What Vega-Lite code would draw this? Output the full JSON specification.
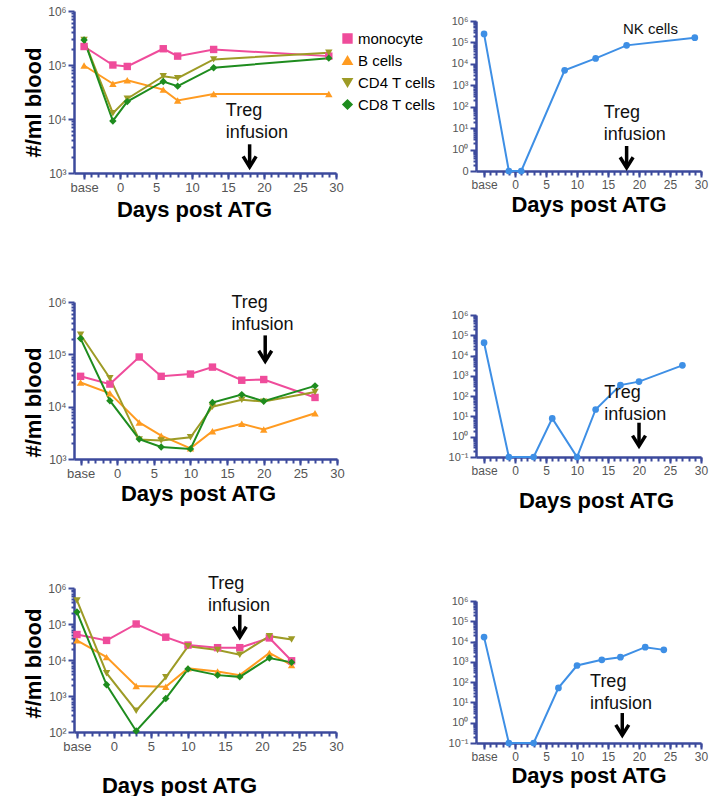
{
  "$schema": "https://vega.github.io/schema/vega-lite/v6.json",
  "background": "white",
  "padding": {"left": 22, "top": 5, "right": 5, "bottom": 0},
  "config": {
    "font": "Liberation Sans",
    "view": {"stroke": null},
    "axis": {
      "labelFont": "Liberation Sans",
      "titleFont": "Liberation Sans",
      "labelColor": "#555555",
      "domainColor": "#3C4A9C",
      "tickColor": "#3C4A9C",
      "domainWidth": 2.5,
      "domainCap": "butt",
      "tickWidth": 2,
      "labelFlush": false,
      "labelOverlap": false,
      "grid": false,
      "titleFontWeight": "bold",
      "titleColor": "black",
      "titleFontSize": 22,
      "labelPadding": 2
    }
  },
  "datasets": {
    "cells": [
      {"patient": 1, "cell": "monocyte", "day": -5, "count": 220000},
      {"patient": 1, "cell": "monocyte", "day": -1, "count": 100000},
      {"patient": 1, "cell": "monocyte", "day": 1, "count": 94000},
      {"patient": 1, "cell": "monocyte", "day": 6, "count": 200000},
      {"patient": 1, "cell": "monocyte", "day": 8, "count": 146000},
      {"patient": 1, "cell": "monocyte", "day": 13, "count": 194000},
      {"patient": 1, "cell": "monocyte", "day": 29, "count": 146000},
      {"patient": 1, "cell": "B cells", "day": -5, "count": 98000},
      {"patient": 1, "cell": "B cells", "day": -1, "count": 45000},
      {"patient": 1, "cell": "B cells", "day": 1, "count": 52000},
      {"patient": 1, "cell": "B cells", "day": 6, "count": 35000},
      {"patient": 1, "cell": "B cells", "day": 8, "count": 22000},
      {"patient": 1, "cell": "B cells", "day": 13, "count": 29000},
      {"patient": 1, "cell": "B cells", "day": 29, "count": 29000},
      {"patient": 1, "cell": "CD4 T cells", "day": -5, "count": 290000},
      {"patient": 1, "cell": "CD4 T cells", "day": -1, "count": 12800},
      {"patient": 1, "cell": "CD4 T cells", "day": 1, "count": 23700},
      {"patient": 1, "cell": "CD4 T cells", "day": 6, "count": 62000},
      {"patient": 1, "cell": "CD4 T cells", "day": 8, "count": 57000},
      {"patient": 1, "cell": "CD4 T cells", "day": 13, "count": 127000},
      {"patient": 1, "cell": "CD4 T cells", "day": 29, "count": 169000},
      {"patient": 1, "cell": "CD8 T cells", "day": -5, "count": 290000},
      {"patient": 1, "cell": "CD8 T cells", "day": -1, "count": 9200},
      {"patient": 1, "cell": "CD8 T cells", "day": 1, "count": 21000},
      {"patient": 1, "cell": "CD8 T cells", "day": 6, "count": 49500},
      {"patient": 1, "cell": "CD8 T cells", "day": 8, "count": 40600},
      {"patient": 1, "cell": "CD8 T cells", "day": 13, "count": 89000},
      {"patient": 1, "cell": "CD8 T cells", "day": 29, "count": 134000},
      {"patient": 2, "cell": "monocyte", "day": -5, "count": 38000},
      {"patient": 2, "cell": "monocyte", "day": -1, "count": 27000},
      {"patient": 2, "cell": "monocyte", "day": 3, "count": 89000},
      {"patient": 2, "cell": "monocyte", "day": 6, "count": 38000},
      {"patient": 2, "cell": "monocyte", "day": 10, "count": 42000},
      {"patient": 2, "cell": "monocyte", "day": 13, "count": 57000},
      {"patient": 2, "cell": "monocyte", "day": 17, "count": 32000},
      {"patient": 2, "cell": "monocyte", "day": 20, "count": 33000},
      {"patient": 2, "cell": "monocyte", "day": 27, "count": 15000},
      {"patient": 2, "cell": "B cells", "day": -5, "count": 29000},
      {"patient": 2, "cell": "B cells", "day": -1, "count": 18000},
      {"patient": 2, "cell": "B cells", "day": 3, "count": 5000},
      {"patient": 2, "cell": "B cells", "day": 6, "count": 2800},
      {"patient": 2, "cell": "B cells", "day": 10, "count": 1600},
      {"patient": 2, "cell": "B cells", "day": 13, "count": 3400},
      {"patient": 2, "cell": "B cells", "day": 17, "count": 4700},
      {"patient": 2, "cell": "B cells", "day": 20, "count": 3650},
      {"patient": 2, "cell": "B cells", "day": 27, "count": 7500},
      {"patient": 2, "cell": "CD4 T cells", "day": -5, "count": 237000},
      {"patient": 2, "cell": "CD4 T cells", "day": -1, "count": 35000},
      {"patient": 2, "cell": "CD4 T cells", "day": 3, "count": 2350},
      {"patient": 2, "cell": "CD4 T cells", "day": 6, "count": 2250},
      {"patient": 2, "cell": "CD4 T cells", "day": 10, "count": 2600},
      {"patient": 2, "cell": "CD4 T cells", "day": 13, "count": 10000},
      {"patient": 2, "cell": "CD4 T cells", "day": 17, "count": 13500},
      {"patient": 2, "cell": "CD4 T cells", "day": 20, "count": 12500},
      {"patient": 2, "cell": "CD4 T cells", "day": 27, "count": 19000},
      {"patient": 2, "cell": "CD8 T cells", "day": -5, "count": 200000},
      {"patient": 2, "cell": "CD8 T cells", "day": -1, "count": 13000},
      {"patient": 2, "cell": "CD8 T cells", "day": 3, "count": 2400},
      {"patient": 2, "cell": "CD8 T cells", "day": 6, "count": 1700},
      {"patient": 2, "cell": "CD8 T cells", "day": 10, "count": 1560},
      {"patient": 2, "cell": "CD8 T cells", "day": 13, "count": 12000},
      {"patient": 2, "cell": "CD8 T cells", "day": 17, "count": 17000},
      {"patient": 2, "cell": "CD8 T cells", "day": 20, "count": 12700},
      {"patient": 2, "cell": "CD8 T cells", "day": 27, "count": 25000},
      {"patient": 3, "cell": "monocyte", "day": -5, "count": 51000},
      {"patient": 3, "cell": "monocyte", "day": -1, "count": 35000},
      {"patient": 3, "cell": "monocyte", "day": 3, "count": 100000},
      {"patient": 3, "cell": "monocyte", "day": 7, "count": 43000},
      {"patient": 3, "cell": "monocyte", "day": 10, "count": 26000},
      {"patient": 3, "cell": "monocyte", "day": 14, "count": 22000},
      {"patient": 3, "cell": "monocyte", "day": 17, "count": 22000},
      {"patient": 3, "cell": "monocyte", "day": 21, "count": 41000},
      {"patient": 3, "cell": "monocyte", "day": 24, "count": 9500},
      {"patient": 3, "cell": "B cells", "day": -5, "count": 35000},
      {"patient": 3, "cell": "B cells", "day": -1, "count": 12000},
      {"patient": 3, "cell": "B cells", "day": 3, "count": 1900},
      {"patient": 3, "cell": "B cells", "day": 7, "count": 1800},
      {"patient": 3, "cell": "B cells", "day": 10, "count": 5850},
      {"patient": 3, "cell": "B cells", "day": 14, "count": 4800},
      {"patient": 3, "cell": "B cells", "day": 17, "count": 3800},
      {"patient": 3, "cell": "B cells", "day": 21, "count": 15700},
      {"patient": 3, "cell": "B cells", "day": 24, "count": 7200},
      {"patient": 3, "cell": "CD4 T cells", "day": -5, "count": 450000},
      {"patient": 3, "cell": "CD4 T cells", "day": -1, "count": 4300},
      {"patient": 3, "cell": "CD4 T cells", "day": 3, "count": 390},
      {"patient": 3, "cell": "CD4 T cells", "day": 7, "count": 3300},
      {"patient": 3, "cell": "CD4 T cells", "day": 10, "count": 24000},
      {"patient": 3, "cell": "CD4 T cells", "day": 14, "count": 19000},
      {"patient": 3, "cell": "CD4 T cells", "day": 17, "count": 14000},
      {"patient": 3, "cell": "CD4 T cells", "day": 21, "count": 46000},
      {"patient": 3, "cell": "CD4 T cells", "day": 24, "count": 37000},
      {"patient": 3, "cell": "CD8 T cells", "day": -5, "count": 215000},
      {"patient": 3, "cell": "CD8 T cells", "day": -1, "count": 2050},
      {"patient": 3, "cell": "CD8 T cells", "day": 3, "count": 107},
      {"patient": 3, "cell": "CD8 T cells", "day": 7, "count": 850},
      {"patient": 3, "cell": "CD8 T cells", "day": 10, "count": 5600},
      {"patient": 3, "cell": "CD8 T cells", "day": 14, "count": 3800},
      {"patient": 3, "cell": "CD8 T cells", "day": 17, "count": 3400},
      {"patient": 3, "cell": "CD8 T cells", "day": 21, "count": 11400},
      {"patient": 3, "cell": "CD8 T cells", "day": 24, "count": 8600}
    ],
    "nk": [
      {"patient": 1, "day": -5, "count": 250000},
      {"patient": 1, "day": -1, "count": 0.1},
      {"patient": 1, "day": 1, "count": 0.1},
      {"patient": 1, "day": 8, "count": 5000},
      {"patient": 1, "day": 13, "count": 18000},
      {"patient": 1, "day": 18, "count": 73000},
      {"patient": 1, "day": 29, "count": 167000},
      {"patient": 2, "day": -5, "count": 43000},
      {"patient": 2, "day": -1, "count": 0.1},
      {"patient": 2, "day": 3, "count": 0.1},
      {"patient": 2, "day": 6, "count": 8},
      {"patient": 2, "day": 10, "count": 0.1},
      {"patient": 2, "day": 13, "count": 22},
      {"patient": 2, "day": 17, "count": 350},
      {"patient": 2, "day": 20, "count": 520},
      {"patient": 2, "day": 27, "count": 3300},
      {"patient": 3, "day": -5, "count": 16600},
      {"patient": 3, "day": -1, "count": 0.1},
      {"patient": 3, "day": 3, "count": 0.1},
      {"patient": 3, "day": 7, "count": 52},
      {"patient": 3, "day": 10, "count": 660},
      {"patient": 3, "day": 14, "count": 1260},
      {"patient": 3, "day": 17, "count": 1700},
      {"patient": 3, "day": 21, "count": 5300},
      {"patient": 3, "day": 24, "count": 3900}
    ]
  },
  "bounds": "full",
  "center": true,
  "spacing": 12,
  "resolve": {"scale": {"color": "independent", "shape": "independent"}, "legend": {"color": "independent", "shape": "independent"}},
  "hconcat": [
    {
      "bounds": "flush",
      "spacing": 129,
      "resolve": {"scale": {"color": "independent", "shape": "independent"}, "legend": {"color": "independent", "shape": "independent"}},
      "vconcat": [
        {
          "width": 262, "height": 162,
          "resolve": {"axis": {"x": "independent", "y": "independent"}},
          "layer": [
            {
              "data": {"name": "cells"},
              "transform": [{"filter": "datum.patient === 1"}],
              "mark": {"type": "line", "strokeWidth": 2},
              "encoding": {
                "x": {"field": "day", "type": "quantitative", "scale": {"domain": [-6.4, 30], "nice": false, "zero": false},
                  "axis": {"values": [-5, 0, 5, 10, 15, 20, 25, 30], "labelExpr": "datum.value === -5 ? 'base' : datum.label", "tickSize": 6, "labelFontSize": 13, "title": "Days post ATG", "titlePadding": 5, "titleX": 120}},
                "y": {"field": "count", "type": "quantitative", "scale": {"type": "log", "domain": [1000, 1000000], "nice": false},
                  "axis": {"values": [1000, 10000, 100000, 1000000], "labelExpr": "'10' + ['⁻¹','⁰','¹','²','³','⁴','⁵','⁶'][round(log(datum.value)/LN10)+1]", "tickSize": 6, "labelFontSize": 12, "title": "#/ml blood", "titlePadding": 2, "titleY": 91}},
                "color": {"field": "cell", "type": "nominal",
                  "scale": {"domain": ["monocyte", "B cells", "CD4 T cells", "CD8 T cells"], "range": ["#EF4C9B", "#FF9B21", "#9D9B26", "#1E8C1E"]},
                  "legend": {
                    "orient": "none", "legendX": 266, "legendY": 20, "title": null, "padding": 0,
                    "labelFontSize": 15, "labelColor": "black", "labelFont": "Liberation Sans",
                    "symbolSize": 70, "symbolStrokeWidth": 2, "rowPadding": 5, "labelOffset": 3, "symbolOpacity": 1
                  }}
              }
            },
            {
              "data": {"name": "cells"},
              "transform": [{"filter": "datum.patient === 1"}],
              "mark": {"type": "point", "filled": true, "size": 55, "opacity": 1},
              "encoding": {
                "x": {"field": "day", "type": "quantitative", "axis": {"values": [-5,-4,-3,-2,-1,0,1,2,3,4,5,6,7,8,9,10,11,12,13,14,15,16,17,18,19,20,21,22,23,24,25,26,27,28,29,30], "labels": false, "domain": false, "tickSize": 4, "title": null, "orient": "bottom"}},
                "y": {"field": "count", "type": "quantitative", "axis": {"values": [2000,3000,4000,5000,6000,7000,8000,9000,20000,30000,40000,50000,60000,70000,80000,90000,200000,300000,400000,500000,600000,700000,800000,900000], "labels": false, "domain": false, "tickSize": 3, "title": null, "orient": "left"}},
                "color": {"field": "cell", "type": "nominal", "legend": null},
                "shape": {"field": "cell", "type": "nominal", "scale": {"domain": ["monocyte", "B cells", "CD4 T cells", "CD8 T cells"], "range": ["square", "triangle-up", "triangle-down", "diamond"]}, "legend": null}
              }
            },
            {
              "data": {"values": [{"day": 14.7, "level": 11300}]},
              "mark": {"type": "text", "text": ["Treg", "infusion"], "align": "left", "baseline": "alphabetic", "fontSize": 18, "lineHeight": 22, "color": "#111111", "font": "Liberation Sans"},
              "encoding": {"x": {"field": "day", "type": "quantitative", "axis": null}, "y": {"field": "level", "type": "quantitative", "axis": null}}
            },
            {
              "data": {"values": [{"day": 18, "top": 3400, "tip": 1300}]},
              "mark": {"type": "rule", "color": "black", "strokeWidth": 3.5},
              "encoding": {"x": {"field": "day", "type": "quantitative", "axis": null}, "y": {"field": "top", "type": "quantitative", "axis": null}, "y2": {"field": "tip"}}
            },
            {
              "data": {"values": [{"day": 18, "top": 3400, "tip": 1300}]},
              "mark": {"type": "point", "shape": "M-1,-1.6L0,0L1,-1.6", "size": 169, "filled": false, "color": "black", "strokeWidth": 3.5, "opacity": 1, "strokeJoin": "miter"},
              "encoding": {"x": {"field": "day", "type": "quantitative", "axis": null}, "y": {"field": "tip", "type": "quantitative", "axis": null}}
            }
          ]
        },
        {
          "width": 263, "height": 157,
          "resolve": {"axis": {"x": "independent", "y": "independent"}},
          "layer": [
            {
              "data": {"name": "cells"},
              "transform": [{"filter": "datum.patient === 2"}],
              "mark": {"type": "line", "strokeWidth": 2},
              "encoding": {
                "x": {"field": "day", "type": "quantitative", "scale": {"domain": [-5.9, 30], "nice": false, "zero": false},
                  "axis": {"values": [-5, 0, 5, 10, 15, 20, 25, 30], "labelExpr": "datum.value === -5 ? 'base' : datum.label", "tickSize": 6, "labelFontSize": 13, "title": "Days post ATG", "titlePadding": 3, "titleX": 124}},
                "y": {"field": "count", "type": "quantitative", "scale": {"type": "log", "domain": [1000, 1000000], "nice": false},
                  "axis": {"values": [1000, 10000, 100000, 1000000], "labelExpr": "'10' + ['⁻¹','⁰','¹','²','³','⁴','⁵','⁶'][round(log(datum.value)/LN10)+1]", "tickSize": 6, "labelFontSize": 12, "title": "#/ml blood", "titlePadding": 2, "titleY": 100}},
                "color": {"field": "cell", "type": "nominal",
                  "scale": {"domain": ["monocyte", "B cells", "CD4 T cells", "CD8 T cells"], "range": ["#EF4C9B", "#FF9B21", "#9D9B26", "#1E8C1E"]}, "legend": null}
              }
            },
            {
              "data": {"name": "cells"},
              "transform": [{"filter": "datum.patient === 2"}],
              "mark": {"type": "point", "filled": true, "size": 55, "opacity": 1},
              "encoding": {
                "x": {"field": "day", "type": "quantitative", "axis": {"values": [-5,-4,-3,-2,-1,0,1,2,3,4,5,6,7,8,9,10,11,12,13,14,15,16,17,18,19,20,21,22,23,24,25,26,27,28,29,30], "labels": false, "domain": false, "tickSize": 4, "title": null, "orient": "bottom"}},
                "y": {"field": "count", "type": "quantitative", "axis": {"values": [2000,3000,4000,5000,6000,7000,8000,9000,20000,30000,40000,50000,60000,70000,80000,90000,200000,300000,400000,500000,600000,700000,800000,900000], "labels": false, "domain": false, "tickSize": 3, "title": null, "orient": "left"}},
                "color": {"field": "cell", "type": "nominal", "legend": null},
                "shape": {"field": "cell", "type": "nominal", "scale": {"domain": ["monocyte", "B cells", "CD4 T cells", "CD8 T cells"], "range": ["square", "triangle-up", "triangle-down", "diamond"]}, "legend": null}
              }
            },
            {
              "data": {"values": [{"day": 15.6, "level": 770000}]},
              "mark": {"type": "text", "text": ["Treg", "infusion"], "align": "left", "baseline": "alphabetic", "fontSize": 18, "lineHeight": 22, "color": "#111111", "font": "Liberation Sans"},
              "encoding": {"x": {"field": "day", "type": "quantitative", "axis": null}, "y": {"field": "level", "type": "quantitative", "axis": null}}
            },
            {
              "data": {"values": [{"day": 20.2, "top": 230000, "tip": 74000}]},
              "mark": {"type": "rule", "color": "black", "strokeWidth": 3.5},
              "encoding": {"x": {"field": "day", "type": "quantitative", "axis": null}, "y": {"field": "top", "type": "quantitative", "axis": null}, "y2": {"field": "tip"}}
            },
            {
              "data": {"values": [{"day": 20.2, "top": 230000, "tip": 74000}]},
              "mark": {"type": "point", "shape": "M-1,-1.6L0,0L1,-1.6", "size": 169, "filled": false, "color": "black", "strokeWidth": 3.5, "opacity": 1, "strokeJoin": "miter"},
              "encoding": {"x": {"field": "day", "type": "quantitative", "axis": null}, "y": {"field": "tip", "type": "quantitative", "axis": null}}
            }
          ]
        },
        {
          "width": 262, "height": 144,
          "resolve": {"axis": {"x": "independent", "y": "independent"}},
          "layer": [
            {
              "data": {"name": "cells"},
              "transform": [{"filter": "datum.patient === 3"}],
              "mark": {"type": "line", "strokeWidth": 2},
              "encoding": {
                "x": {"field": "day", "type": "quantitative", "scale": {"domain": [-5.4, 30], "nice": false, "zero": false},
                  "axis": {"values": [-5, 0, 5, 10, 15, 20, 25, 30], "labelExpr": "datum.value === -5 ? 'base' : datum.label", "tickSize": 6, "labelFontSize": 13, "title": "Days post ATG", "titlePadding": 22, "titleX": 105}},
                "y": {"field": "count", "type": "quantitative", "scale": {"type": "log", "domain": [100, 1000000], "nice": false},
                  "axis": {"values": [100, 1000, 10000, 100000, 1000000], "labelExpr": "'10' + ['⁻¹','⁰','¹','²','³','⁴','⁵','⁶'][round(log(datum.value)/LN10)+1]", "tickSize": 6, "labelFontSize": 12, "title": "#/ml blood", "titlePadding": 2, "titleY": 75}},
                "color": {"field": "cell", "type": "nominal",
                  "scale": {"domain": ["monocyte", "B cells", "CD4 T cells", "CD8 T cells"], "range": ["#EF4C9B", "#FF9B21", "#9D9B26", "#1E8C1E"]}, "legend": null}
              }
            },
            {
              "data": {"name": "cells"},
              "transform": [{"filter": "datum.patient === 3"}],
              "mark": {"type": "point", "filled": true, "size": 55, "opacity": 1},
              "encoding": {
                "x": {"field": "day", "type": "quantitative", "axis": {"values": [-5,-4,-3,-2,-1,0,1,2,3,4,5,6,7,8,9,10,11,12,13,14,15,16,17,18,19,20,21,22,23,24,25,26,27,28,29,30], "labels": false, "domain": false, "tickSize": 4, "title": null, "orient": "bottom"}},
                "y": {"field": "count", "type": "quantitative", "axis": {"values": [200,300,400,500,600,700,800,900,2000,3000,4000,5000,6000,7000,8000,9000,20000,30000,40000,50000,60000,70000,80000,90000,200000,300000,400000,500000,600000,700000,800000,900000], "labels": false, "domain": false, "tickSize": 3, "title": null, "orient": "left"}},
                "color": {"field": "cell", "type": "nominal", "legend": null},
                "shape": {"field": "cell", "type": "nominal", "scale": {"domain": ["monocyte", "B cells", "CD4 T cells", "CD8 T cells"], "range": ["square", "triangle-up", "triangle-down", "diamond"]}, "legend": null}
              }
            },
            {
              "data": {"values": [{"day": 12.7, "level": 960000}]},
              "mark": {"type": "text", "text": ["Treg", "infusion"], "align": "left", "baseline": "alphabetic", "fontSize": 18, "lineHeight": 22, "color": "#111111", "font": "Liberation Sans"},
              "encoding": {"x": {"field": "day", "type": "quantitative", "axis": null}, "y": {"field": "level", "type": "quantitative", "axis": null}}
            },
            {
              "data": {"values": [{"day": 17, "top": 180000, "tip": 43000}]},
              "mark": {"type": "rule", "color": "black", "strokeWidth": 3.5},
              "encoding": {"x": {"field": "day", "type": "quantitative", "axis": null}, "y": {"field": "top", "type": "quantitative", "axis": null}, "y2": {"field": "tip"}}
            },
            {
              "data": {"values": [{"day": 17, "top": 180000, "tip": 43000}]},
              "mark": {"type": "point", "shape": "M-1,-1.6L0,0L1,-1.6", "size": 169, "filled": false, "color": "black", "strokeWidth": 3.5, "opacity": 1, "strokeJoin": "miter"},
              "encoding": {"x": {"field": "day", "type": "quantitative", "axis": null}, "y": {"field": "tip", "type": "quantitative", "axis": null}}
            }
          ]
        }
      ]
    },
    {
      "bounds": "flush",
      "spacing": 144,
      "resolve": {"scale": {"color": "independent", "shape": "independent"}, "legend": {"color": "independent", "shape": "independent"}},
      "vconcat": [
        {
          "width": 225, "height": 150,
          "resolve": {"axis": {"x": "independent", "y": "independent"}},
          "layer": [
            {
              "data": {"name": "nk"},
              "transform": [{"filter": "datum.patient === 1"}],
              "mark": {"type": "line", "strokeWidth": 2, "color": "#3E8FE5"},
              "encoding": {
                "x": {"field": "day", "type": "quantitative", "scale": {"domain": [-6.3, 30], "nice": false, "zero": false},
                  "axis": {"values": [-5, 0, 5, 10, 15, 20, 25, 30], "labelExpr": "datum.value === -5 ? 'base' : datum.label", "tickSize": 6, "labelFontSize": 12, "title": "Days post ATG", "titlePadding": 4}},
                "y": {"field": "count", "type": "quantitative", "scale": {"type": "log", "domain": [0.1, 1000000], "nice": false},
                  "axis": {"values": [0.1, 1, 10, 100, 1000, 10000, 100000, 1000000], "labelExpr": "datum.value < 0.5 ? '0' : '10' + ['⁻¹','⁰','¹','²','³','⁴','⁵','⁶'][round(log(datum.value)/LN10)+1]", "tickSize": 6, "labelFontSize": 11, "title": null}}
              }
            },
            {
              "data": {"name": "nk"},
              "transform": [{"filter": "datum.patient === 1"}],
              "mark": {"type": "point", "filled": true, "size": 45, "opacity": 1, "color": "#3E8FE5", "shape": "circle"},
              "encoding": {
                "x": {"field": "day", "type": "quantitative", "axis": {"values": [-5,-4,-3,-2,-1,0,1,2,3,4,5,6,7,8,9,10,11,12,13,14,15,16,17,18,19,20,21,22,23,24,25,26,27,28,29,30], "labels": false, "domain": false, "tickSize": 4, "title": null, "orient": "bottom"}},
                "y": {"field": "count", "type": "quantitative", "axis": {"values": [0.2,0.3,0.4,0.5,0.6,0.7,0.8,0.9,2,3,4,5,6,7,8,9,20,30,40,50,60,70,80,90,200,300,400,500,600,700,800,900,2000,3000,4000,5000,6000,7000,8000,9000,20000,30000,40000,50000,60000,70000,80000,90000,200000,300000,400000,500000,600000,700000,800000,900000], "labels": false, "domain": false, "tickSize": 3, "title": null, "orient": "left"}}
              }
            },
            {
              "data": {"values": [{"day": 17.4, "level": 260000}]},
              "mark": {"type": "text", "text": "NK cells", "align": "left", "baseline": "alphabetic", "fontSize": 15, "color": "#111111", "font": "Liberation Sans"},
              "encoding": {"x": {"field": "day", "type": "quantitative", "axis": null}, "y": {"field": "level", "type": "quantitative", "axis": null}}
            },
            {
              "data": {"values": [{"day": 14.3, "level": 31}]},
              "mark": {"type": "text", "text": ["Treg", "infusion"], "align": "left", "baseline": "alphabetic", "fontSize": 18, "lineHeight": 22, "color": "#111111", "font": "Liberation Sans"},
              "encoding": {"x": {"field": "day", "type": "quantitative", "axis": null}, "y": {"field": "level", "type": "quantitative", "axis": null}}
            },
            {
              "data": {"values": [{"day": 18, "top": 1.47, "tip": 0.144}]},
              "mark": {"type": "rule", "color": "black", "strokeWidth": 3.5},
              "encoding": {"x": {"field": "day", "type": "quantitative", "axis": null}, "y": {"field": "top", "type": "quantitative", "axis": null}, "y2": {"field": "tip"}}
            },
            {
              "data": {"values": [{"day": 18, "top": 1.47, "tip": 0.144}]},
              "mark": {"type": "point", "shape": "M-1,-1.6L0,0L1,-1.6", "size": 169, "filled": false, "color": "black", "strokeWidth": 3.5, "opacity": 1, "strokeJoin": "miter"},
              "encoding": {"x": {"field": "day", "type": "quantitative", "axis": null}, "y": {"field": "tip", "type": "quantitative", "axis": null}}
            }
          ]
        },
        {
          "width": 225, "height": 142,
          "resolve": {"axis": {"x": "independent", "y": "independent"}},
          "layer": [
            {
              "data": {"name": "nk"},
              "transform": [{"filter": "datum.patient === 2"}],
              "mark": {"type": "line", "strokeWidth": 2, "color": "#3E8FE5"},
              "encoding": {
                "x": {"field": "day", "type": "quantitative", "scale": {"domain": [-6.3, 30], "nice": false, "zero": false},
                  "axis": {"values": [-5, 0, 5, 10, 15, 20, 25, 30], "labelExpr": "datum.value === -5 ? 'base' : datum.label", "tickSize": 6, "labelFontSize": 12, "title": "Days post ATG", "titlePadding": 14, "titleX": 120}},
                "y": {"field": "count", "type": "quantitative", "scale": {"type": "log", "domain": [0.1, 1000000], "nice": false},
                  "axis": {"values": [0.1, 1, 10, 100, 1000, 10000, 100000, 1000000], "labelExpr": "'10' + ['⁻¹','⁰','¹','²','³','⁴','⁵','⁶'][round(log(datum.value)/LN10)+1]", "tickSize": 6, "labelFontSize": 11, "title": null}}
              }
            },
            {
              "data": {"name": "nk"},
              "transform": [{"filter": "datum.patient === 2"}],
              "mark": {"type": "point", "filled": true, "size": 45, "opacity": 1, "color": "#3E8FE5", "shape": "circle"},
              "encoding": {
                "x": {"field": "day", "type": "quantitative", "axis": {"values": [-5,-4,-3,-2,-1,0,1,2,3,4,5,6,7,8,9,10,11,12,13,14,15,16,17,18,19,20,21,22,23,24,25,26,27,28,29,30], "labels": false, "domain": false, "tickSize": 4, "title": null, "orient": "bottom"}},
                "y": {"field": "count", "type": "quantitative", "axis": {"values": [0.2,0.3,0.4,0.5,0.6,0.7,0.8,0.9,2,3,4,5,6,7,8,9,20,30,40,50,60,70,80,90,200,300,400,500,600,700,800,900,2000,3000,4000,5000,6000,7000,8000,9000,20000,30000,40000,50000,60000,70000,80000,90000,200000,300000,400000,500000,600000,700000,800000,900000], "labels": false, "domain": false, "tickSize": 3, "title": null, "orient": "left"}}
              }
            },
            {
              "data": {"values": [{"day": 14.4, "level": 84}]},
              "mark": {"type": "text", "text": ["Treg", "infusion"], "align": "left", "baseline": "alphabetic", "fontSize": 18, "lineHeight": 22, "color": "#111111", "font": "Liberation Sans"},
              "encoding": {"x": {"field": "day", "type": "quantitative", "axis": null}, "y": {"field": "level", "type": "quantitative", "axis": null}}
            },
            {
              "data": {"values": [{"day": 20, "top": 4.9, "tip": 0.35}]},
              "mark": {"type": "rule", "color": "black", "strokeWidth": 3.5},
              "encoding": {"x": {"field": "day", "type": "quantitative", "axis": null}, "y": {"field": "top", "type": "quantitative", "axis": null}, "y2": {"field": "tip"}}
            },
            {
              "data": {"values": [{"day": 20, "top": 4.9, "tip": 0.35}]},
              "mark": {"type": "point", "shape": "M-1,-1.6L0,0L1,-1.6", "size": 169, "filled": false, "color": "black", "strokeWidth": 3.5, "opacity": 1, "strokeJoin": "miter"},
              "encoding": {"x": {"field": "day", "type": "quantitative", "axis": null}, "y": {"field": "tip", "type": "quantitative", "axis": null}}
            }
          ]
        },
        {
          "width": 225, "height": 142,
          "resolve": {"axis": {"x": "independent", "y": "independent"}},
          "layer": [
            {
              "data": {"name": "nk"},
              "transform": [{"filter": "datum.patient === 3"}],
              "mark": {"type": "line", "strokeWidth": 2, "color": "#3E8FE5"},
              "encoding": {
                "x": {"field": "day", "type": "quantitative", "scale": {"domain": [-6.3, 30], "nice": false, "zero": false},
                  "axis": {"values": [-5, 0, 5, 10, 15, 20, 25, 30], "labelExpr": "datum.value === -5 ? 'base' : datum.label", "tickSize": 6, "labelFontSize": 12, "title": "Days post ATG", "titlePadding": 3}},
                "y": {"field": "count", "type": "quantitative", "scale": {"type": "log", "domain": [0.1, 1000000], "nice": false},
                  "axis": {"values": [0.1, 1, 10, 100, 1000, 10000, 100000, 1000000], "labelExpr": "'10' + ['⁻¹','⁰','¹','²','³','⁴','⁵','⁶'][round(log(datum.value)/LN10)+1]", "tickSize": 6, "labelFontSize": 11, "title": null}}
              }
            },
            {
              "data": {"name": "nk"},
              "transform": [{"filter": "datum.patient === 3"}],
              "mark": {"type": "point", "filled": true, "size": 45, "opacity": 1, "color": "#3E8FE5", "shape": "circle"},
              "encoding": {
                "x": {"field": "day", "type": "quantitative", "axis": {"values": [-5,-4,-3,-2,-1,0,1,2,3,4,5,6,7,8,9,10,11,12,13,14,15,16,17,18,19,20,21,22,23,24,25,26,27,28,29,30], "labels": false, "domain": false, "tickSize": 4, "title": null, "orient": "bottom"}},
                "y": {"field": "count", "type": "quantitative", "axis": {"values": [0.2,0.3,0.4,0.5,0.6,0.7,0.8,0.9,2,3,4,5,6,7,8,9,20,30,40,50,60,70,80,90,200,300,400,500,600,700,800,900,2000,3000,4000,5000,6000,7000,8000,9000,20000,30000,40000,50000,60000,70000,80000,90000,200000,300000,400000,500000,600000,700000,800000,900000], "labels": false, "domain": false, "tickSize": 3, "title": null, "orient": "left"}}
              }
            },
            {
              "data": {"values": [{"day": 12.1, "level": 58}]},
              "mark": {"type": "text", "text": ["Treg", "infusion"], "align": "left", "baseline": "alphabetic", "fontSize": 18, "lineHeight": 22, "color": "#111111", "font": "Liberation Sans"},
              "encoding": {"x": {"field": "day", "type": "quantitative", "axis": null}, "y": {"field": "level", "type": "quantitative", "axis": null}}
            },
            {
              "data": {"values": [{"day": 17.3, "top": 3.0, "tip": 0.24}]},
              "mark": {"type": "rule", "color": "black", "strokeWidth": 3.5},
              "encoding": {"x": {"field": "day", "type": "quantitative", "axis": null}, "y": {"field": "top", "type": "quantitative", "axis": null}, "y2": {"field": "tip"}}
            },
            {
              "data": {"values": [{"day": 17.3, "top": 3.0, "tip": 0.24}]},
              "mark": {"type": "point", "shape": "M-1,-1.6L0,0L1,-1.6", "size": 169, "filled": false, "color": "black", "strokeWidth": 3.5, "opacity": 1, "strokeJoin": "miter"},
              "encoding": {"x": {"field": "day", "type": "quantitative", "axis": null}, "y": {"field": "tip", "type": "quantitative", "axis": null}}
            }
          ]
        }
      ]
    }
  ]
}
